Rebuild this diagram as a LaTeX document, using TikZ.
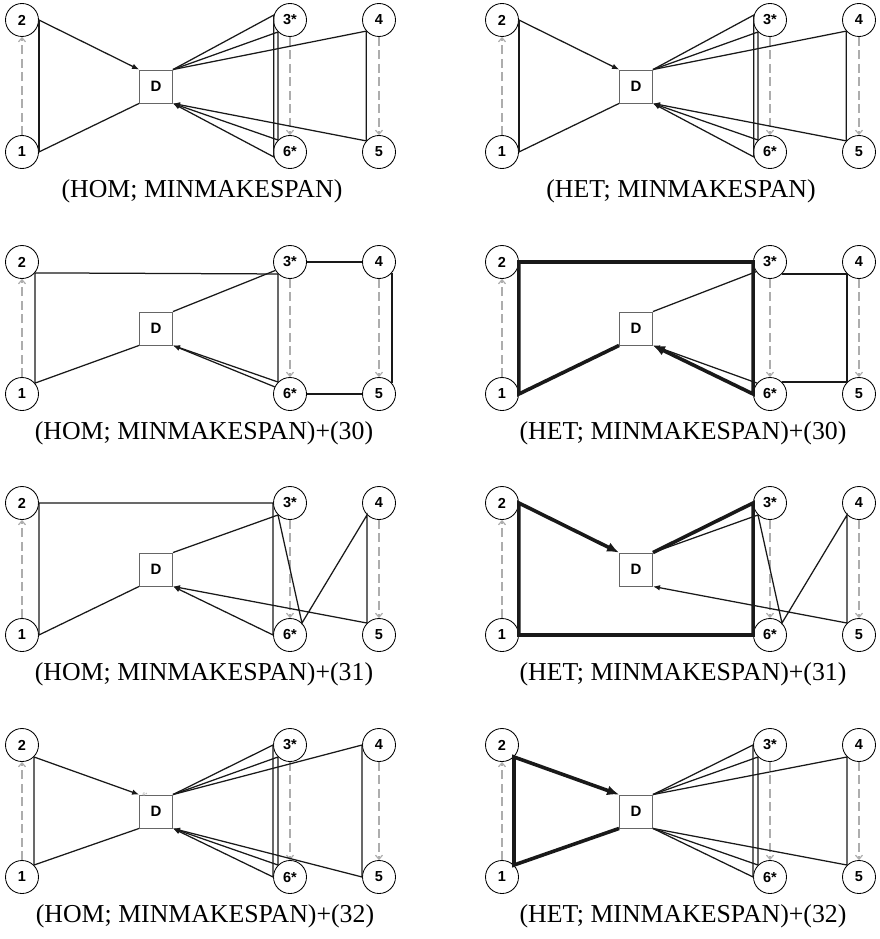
\documentclass[tikz,border=0pt]{standalone}
\usepackage{fontspec}
\setmainfont{Liberation Serif}
\newfontfamily\nodefont{Liberation Sans}
\usetikzlibrary{arrows.meta}

\newcommand\PanelNodes{%
  \node[vtx] (n2) at (22,20) {2};
  \node[vtx] (n1) at (22,152) {1};
  \node[vtx] (n3) at (290,20) {3*};
  \node[vtx] (n4) at (379,20) {4};
  \node[vtx] (n6) at (290,152) {6*};
  \node[vtx] (n5) at (379,152) {5};
  \node[depot] (D) at (156,86.5) {D};
  \draw[dsh] (n1) -- (n2);
  \draw[dsh] (n3) -- (n6);
  \draw[dsh] (n4) -- (n5);
}

\begin{document}
\begin{tikzpicture}[x=1pt,y=-1pt,
  vtx/.style={circle,draw=black,line width=0.85pt,minimum size=33pt,inner sep=0pt,
    font=\nodefont\fontsize{14.5}{14.5}\selectfont\bfseries},
  depot/.style={rectangle,draw=black!60,line width=0.9pt,minimum size=33pt,inner sep=0pt,
    font=\nodefont\fontsize{15}{15}\selectfont\bfseries},
  ln/.style={line width=1.25pt,draw=black!90},
  hv/.style={line width=3.6pt,draw=black!90},
  arr/.style={-{Latex[length=7pt,width=5.5pt]}},
  harr/.style={-{Latex[length=12pt,width=10pt]}},
  dsh/.style={draw=black!32,line width=1.2pt,dash pattern=on 9pt off 4.5pt,
    -{Straight Barb[length=4pt,width=7pt]}},
  capt/.style={anchor=base,font=\fontsize{25.8}{30}\selectfont},
  tinytxt/.style={font=\nodefont\fontsize{5}{5}\selectfont,text=black!40,inner sep=0pt}
]
\fill[white] (0,0) rectangle (880,939);
\useasboundingbox (0,0) rectangle (880,939);

% Row 1 left
\begin{scope}[shift={(0,0)}]
  \PanelNodes
  \draw[ln] (n1.east) -- (D.south west);
  \draw[ln] (n1.east) -- (n2.east);
  \draw[ln,arr] (n2.east) -- (D.north west);
  \draw[ln,arr] (D.north east) -- (n3.163) -- (n6.197) -- (D.south east);
  \draw[ln,arr] (D.north east) -- (n3.225) -- (n6.135) -- (D.south east);
  \draw[ln,arr] (D.north east) -- (n4.221) -- (n5.139) -- (D.south east);
  \node[capt] (c1) at (202,197) {(HOM; MINMAKESPAN)};
\end{scope}

% Row 1 right
\begin{scope}[shift={(480,0)}]
  \PanelNodes
  \draw[ln] (n1.east) -- (D.south west);
  \draw[ln] (n1.east) -- (n2.east);
  \draw[ln,arr] (n2.east) -- (D.north west);
  \draw[ln,arr] (D.north east) -- (n3.163) -- (n6.197) -- (D.south east);
  \draw[ln,arr] (D.north east) -- (n3.225) -- (n6.135) -- (D.south east);
  \draw[ln,arr] (D.north east) -- (n4.221) -- (n5.139) -- (D.south east);
  \node[capt] (c2) at (201,197) {(HET; MINMAKESPAN)};
\end{scope}

% Row 2 left
\begin{scope}[shift={(0,242)}]
  \PanelNodes
  \draw[ln,arr] (D.south west) -- (n1.40) -- (n2.320) -- (n3.225) -- (n6.135) -- (D.south east);
  \draw[ln] (D.north east) -- (n3.210);
  \draw[ln] (n3.east) -- (n4.west);
  \draw[ln] (n4.320) -- (n5.40);
  \draw[ln] (n5.west) -- (n6.east);
  \draw[ln,arr] (n6.155) -- (D.south east);
  \node[capt] (c3) at (204,197) {(HOM; MINMAKESPAN)+(30)};
\end{scope}

% Row 2 right
\begin{scope}[shift={(480,242)}]
  \PanelNodes
  \draw[ln] (D.north east) -- (n3.215);
  \draw[ln] (n3.315) -- (n4.225) -- (n5.135) -- (n6.45);
  \draw[ln,arr] (n6.140) -- (D.south east);
  \draw[hv,harr] (D.south west) -- (n1.east) -- (n2.east) -- (n3.west) -- (n6.west) -- (D.south east);
  \node[capt] (c4) at (203,197) {(HET; MINMAKESPAN)+(30)};
\end{scope}

% Row 3 left
\begin{scope}[shift={(0,483)}]
  \PanelNodes
  \draw[ln,arr] (D.south west) -- (n1.east) -- (n2.east) -- (n3.west) -- (n6.west) -- (D.south east);
  \draw[ln,arr] (D.north east) -- (n3.225) -- (n6.45) -- (n4.225) -- (n5.135) -- (D.south east);
  \node[capt] (c5) at (204,197) {(HOM; MINMAKESPAN)+(31)};
\end{scope}

% Row 3 right
\begin{scope}[shift={(480,483)}]
  \PanelNodes
  \draw[ln,arr] (D.north east) -- (n3.225) -- (n6.45) -- (n4.225) -- (n5.135) -- (D.south east);
  \draw[hv,harr] (D.north east) -- (n3.west) -- (n6.west) -- (n1.east) -- (n2.east) -- (D.north west);
  \node[capt] (c6) at (203,197) {(HET; MINMAKESPAN)+(31)};
\end{scope}

% Row 4 left
\begin{scope}[shift={(0,725)}]
  \PanelNodes
  \draw[ln,arr] (D.south west) -- (n1.45) -- (n2.315) -- (D.north west);
  \draw[ln,arr] (D.north east) -- (n3.west) -- (n6.west) -- (D.south east);
  \draw[ln,arr] (D.north east) -- (n3.225) -- (n6.135) -- (D.south east);
  \draw[ln,arr] (D.north east) -- (n4.west) -- (n5.west) -- (D.south east);
  \node[tinytxt] (t6) at ([xshift=6pt]D.north west) {6*};
  \node[capt] (c7) at (205,197) {(HOM; MINMAKESPAN)+(32)};
\end{scope}

% Row 4 right
\begin{scope}[shift={(480,725)}]
  \PanelNodes
  \draw[ln] (D.north east) -- (n3.west) -- (n6.west) -- (D.south east);
  \draw[ln] (D.north east) -- (n3.225) -- (n6.135) -- (D.south east);
  \draw[ln] (D.north east) -- (n4.225) -- (n5.135) -- (D.south east);
  \draw[hv,harr] (D.south west) -- (n1.45) -- (n2.315) -- (D.north west);
  \node[capt] (c8) at (203,197) {(HET; MINMAKESPAN)+(32)};
\end{scope}
\end{tikzpicture}
\end{document}
